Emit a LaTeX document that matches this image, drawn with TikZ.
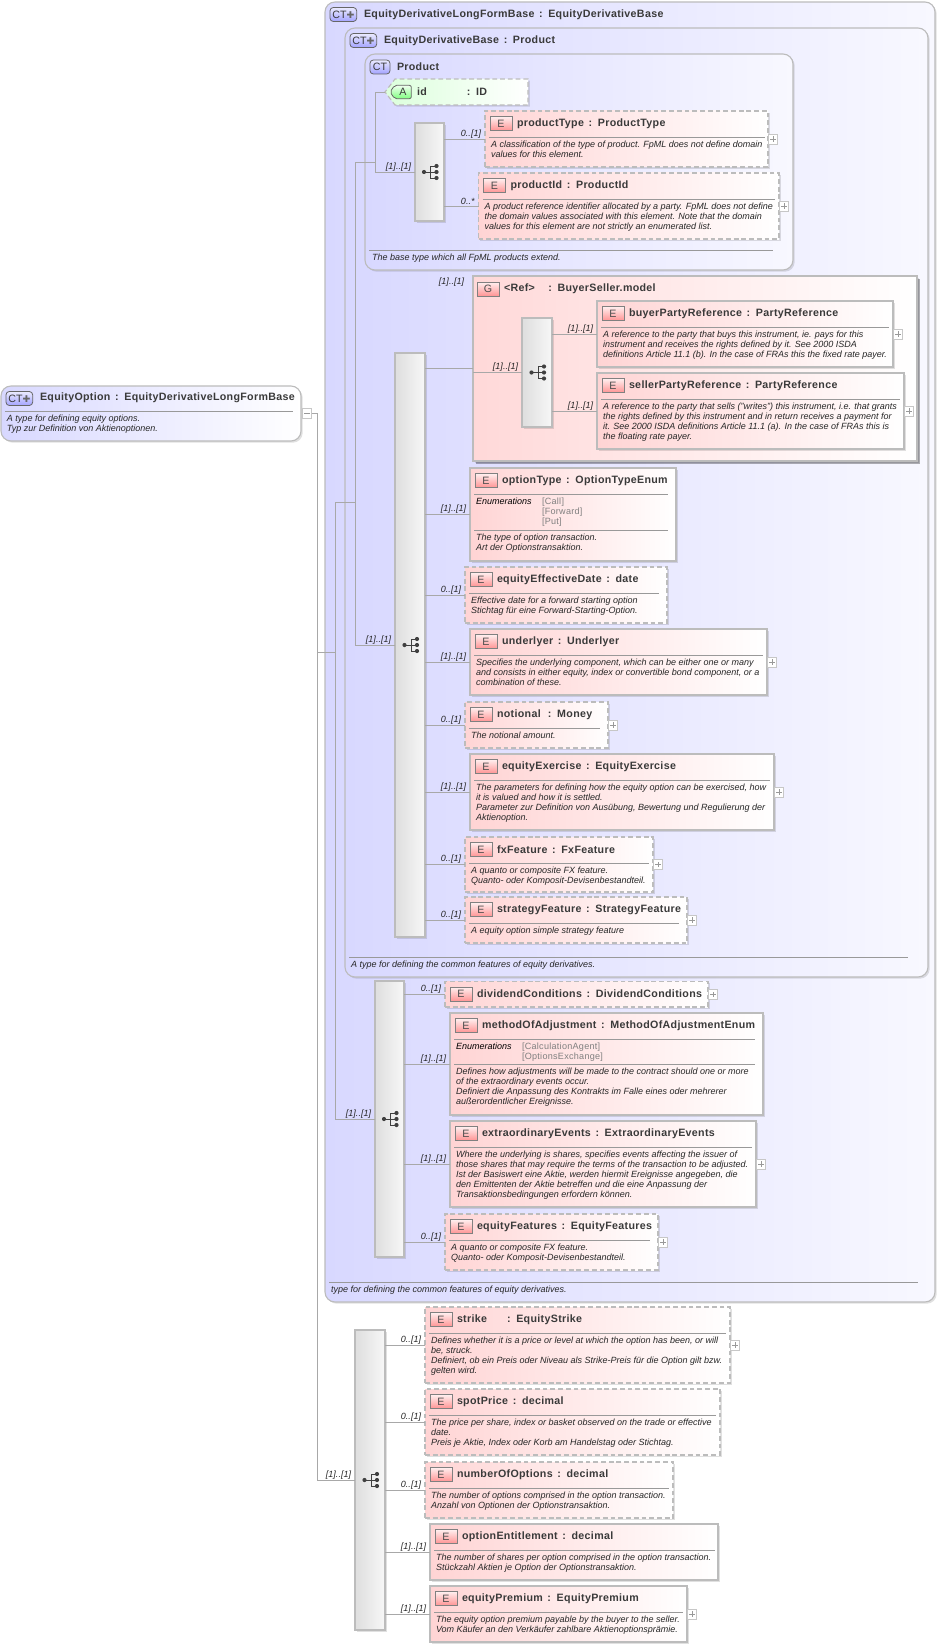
\documentclass[tikz,border=0pt]{standalone}
\usepackage{fontspec}
\setmainfont{Liberation Sans}
\newfontfamily\symfont{DejaVu Sans}
\newfontfamily\titlefont[LetterSpace=3,WordSpace=1.4]{Liberation Sans}
\usetikzlibrary{shadows,shapes.symbols,shapes.misc}

\definecolor{edgegray}{HTML}{BCBCBC}
\definecolor{conngray}{HTML}{A8A8A8}
\definecolor{rulegray}{HTML}{999999}
\definecolor{ctblue}{HTML}{D8D8FF}
\definecolor{ctpale}{HTML}{F8F8FF}
\definecolor{elempink}{HTML}{FFD4D4}
\definecolor{titledark}{HTML}{3A3A3A}

\tikzset{
  soft shadow/.style = {drop shadow={shadow xshift=1.3pt,shadow yshift=-1.3pt,opacity=.12,fill=black}},
  box base/.style = {rectangle,outer sep=0pt,inner sep=0pt,draw=edgegray,line width=.85pt,soft shadow,anchor=north west},
  type box/.style = {box base,rounded corners=7.5pt,left color=ctblue,right color=ctpale},
  elem box/.style = {box base,left color=elempink,right color=white},
  opt box/.style = {elem box,dashed,dash pattern=on 3.6pt off 2.2pt},
  group box/.style = {box base,left color=elempink!90,right color=white,
    drop shadow={shadow xshift=2.2pt,shadow yshift=-2.2pt,opacity=.3,fill=black}},
  seq bar/.style = {box base,left color=black!13,right color=black!3},
  ct icon/.style = {rectangle,rounded corners=2.5pt,draw=black!60,line width=.6pt,top color=blue!8!white,bottom color=blue!36!white,
    minimum height=10.5pt,inner sep=0pt,outer sep=0pt,font=\fontsize{8}{8}\selectfont,text=titledark,anchor=north west},
  e icon/.style = {rectangle,draw=black!50,line width=.6pt,top color=red!6!white,bottom color=red!42!white,
    minimum width=16.5pt,minimum height=10.5pt,inner sep=0pt,outer sep=0pt,font=\fontsize{8}{8}\selectfont,text=black!70,anchor=north west},
  title text/.style = {inner sep=0pt,outer sep=0pt,anchor=west,text=titledark,font=\fontsize{8}{8}\titlefont\bfseries},
  doc text/.style = {inner sep=0pt,outer sep=0pt,anchor=north west,align=left,text=black!85,font=\fontsize{6.75}{7.5}\selectfont\itshape},
  enum text/.style = {inner sep=0pt,outer sep=0pt,anchor=north west,align=left,text=black!50,font=\fontsize{6.8}{7.5}\titlefont},
  occurs/.style = {inner sep=0pt,outer sep=0pt,anchor=south east,xshift=-3pt,yshift=.7pt,text=black!85,font=\fontsize{6.75}{7}\selectfont\itshape},
  conn/.style = {draw=conngray,line width=.6pt},
  rule line/.style = {draw=rulegray,line width=.6pt},
  plus box/.style = {rectangle,draw=black!22,line width=.6pt,fill=white,minimum size=7.4pt,inner sep=0pt,outer sep=0pt,anchor=west,
    path picture={\draw[black!40,line width=.5pt] ([xshift=-2pt]path picture bounding box.center) -- ([xshift=2pt]path picture bounding box.center);
    \draw[black!40,line width=.5pt] ([yshift=-2pt]path picture bounding box.center) -- ([yshift=2pt]path picture bounding box.center);}},
  minus box/.style = {rectangle,draw=black!22,line width=.6pt,fill=white,minimum size=7.4pt,inner sep=0pt,outer sep=0pt,anchor=west,
    path picture={\draw[black!40,line width=.5pt] ([xshift=-2pt]path picture bounding box.center) -- ([xshift=2pt]path picture bounding box.center);}},
  seq icon/.pic = {
    \draw[black!75,line width=.7pt] (-5.5,0) -- (1,0) (7,-6) -| (1,6) -- (7,6) (1,0) -- (7,0);
    \foreach \yy in {-6,0,6} \fill[black!75] (7,\yy) circle (2.1);
    \fill[black!75] (-5.5,0) circle (2.1);
  }
}

% element box: name, style, x, y, w, h, title
\newcommand{\elemhead}[7]{
  \node[#2,minimum width=#5*.75pt,minimum height=#6*.75pt] (#1) at (#3,#4) {};
  \node[e icon] (#1 icon) at ([shift={(5,5.5)}]#1.north west) {E};
  \node[title text] (#1 title) at ([shift={(32,12.5)}]#1.north west) {#7};
}
% rule under the head: name, y offset, inset on the right
\newcommand{\elemrule}[3]{
  \draw[rule line] ([shift={(4,#2)}]#1.north west) -- ([shift={(-#3,#2)}]#1.north east);
}
% doc lines: name, y offset, text
\newcommand{\elemdoc}[3]{
  \node[doc text] (#1 doc) at ([shift={(6,#2)}]#1.north west) {#3};
}
\newcommand{\elemnode}[9]{
  \elemhead{#1}{#2}{#3}{#4}{#5}{#6}{#8}
  \elemrule{#1}{26}{#7}
  \elemdoc{#1}{30}{#9}
}

\begin{document}
\begin{tikzpicture}[x=.75pt,y=-.75pt]
\useasboundingbox (0,0) rectangle (940,1648);

% nested complex types
\node[type box,minimum width=610*.75pt,minimum height=1300*.75pt] (outer) at (325,2) {};
\node[ct icon,minimum width=20pt] (outer icon) at (330,7.5) {CT{\symfont\fontsize{7}{7}\selectfont\textcolor{black!60}{✚}}};
\node[title text] (outer title) at (364,14.5) {EquityDerivativeLongFormBase : EquityDerivativeBase};
\draw[rule line] (329,1282) -- (918,1282);
\node[doc text] (outer doc) at (331,1286) {type for defining the common features of equity derivatives.};

\node[type box,minimum width=583*.75pt,minimum height=949*.75pt] (base) at (345,28) {};
\node[ct icon,minimum width=20pt] (base icon) at (350,33.5) {CT{\symfont\fontsize{7}{7}\selectfont\textcolor{black!60}{✚}}};
\node[title text] (base title) at (384,40.5) {EquityDerivativeBase : Product};
\draw[rule line] (349,957) -- (908,957);
\node[doc text] (base doc) at (351,961) {A type for defining the common features of equity derivatives.};

\node[type box,minimum width=428*.75pt,minimum height=216*.75pt] (product) at (365,54) {};
\node[ct icon,minimum width=15pt] (product icon) at (370,60) {CT};
\node[title text] (product title) at (397,66.5) {Product};
\draw[rule line] (369,250) -- (773,250);
\node[doc text] (product doc) at (372,254) {The base type which all FpML products extend.};

% attribute
\node[box base,signal,signal to=west,signal from=nowhere,signal pointer angle=105,anchor=center,dashed,dash pattern=on 3.6pt off 2.2pt,
  left color=green!14!white,right color=white,minimum width=143*.75pt,minimum height=26*.75pt] (id) at (461.5,92) {};
\node[signal,signal to=west,signal from=nowhere,signal pointer angle=110,rounded corners=1.5pt,draw=black!60,line width=.6pt,top color=green!6!white,bottom color=green!50!white,
  minimum width=16pt,minimum height=10pt,inner sep=0pt,outer sep=0pt,font=\fontsize{8}{8}\selectfont,text=titledark,anchor=west] (id icon) at (390,92) {A};
\node[title text] (id title) at (417,91.5) {id\hspace{30pt}: ID};

% first sequence
\node[seq bar,minimum width=29*.75pt,minimum height=98*.75pt] (seqa) at (415,123) {};
\elemnode{ptype}{opt box}{485}{111}{283}{56}{3}{productType : ProductType}{A classification of the type of product. FpML does not define domain\\values for this element.}
\elemnode{pid}{opt box}{478.5}{173}{300.5}{66}{4}{productId : ProductId}{A product reference identifier allocated by a party. FpML does not define\\the domain values associated with this element. Note that the domain\\values for this element are not strictly an enumerated list.}

% group
\node[group box,minimum width=444*.75pt,minimum height=185*.75pt] (buyerseller) at (473,276) {};
\node[e icon] (buyerseller icon) at (477,282) {G};
\node[title text] (buyerseller title) at (504,288.5) {<Ref>\hspace{10pt}: BuyerSeller.model};
\node[seq bar,minimum width=30*.75pt,minimum height=109*.75pt] (seqg) at (522,318) {};
\elemnode{buyer}{elem box}{597}{301}{296}{66}{4}{buyerPartyReference : PartyReference}{A reference to the party that buys this instrument, ie. pays for this\\instrument and receives the rights defined by it. See 2000 ISDA\\definitions Article 11.1 (b). In the case of FRAs this the fixed rate payer.}
\elemnode{seller}{elem box}{597}{373}{307}{76}{4}{sellerPartyReference : PartyReference}{A reference to the party that sells ("writes") this instrument, i.e. that grants\\the rights defined by this instrument and in return receives a payment for\\it. See 2000 ISDA definitions Article 11.1 (a). In the case of FRAs this is\\the floating rate payer.}

% second sequence
\node[seq bar,minimum width=30*.75pt,minimum height=584*.75pt] (seqb) at (395,353) {};
\elemhead{otype}{elem box}{470}{468}{206}{93}{optionType : OptionTypeEnum}
\elemrule{otype}{26}{8}
\node[doc text,text=black] (otype enum) at (476,498) {Enumerations};
\node[enum text] (otype values) at (542,497.5) {{[Call]}\\{[Forward]}\\{[Put]}};
\elemrule{otype}{62}{8}
\elemdoc{otype}{66}{The type of option transaction.\\Art der Optionstransaktion.}
\elemnode{effdate}{opt box}{465}{567}{202}{56}{8}{equityEffectiveDate : date}{Effective date for a forward starting option\\Stichtag für eine Forward-Starting-Option.}
\elemnode{underlyer}{elem box}{470}{629}{297}{66}{4}{underlyer : Underlyer}{Specifies the underlying component, which can be either one or many\\and consists in either equity, index or convertible bond component, or a\\combination of these.}
\elemnode{notional}{opt box}{465}{702}{143}{46}{8}{notional\hspace{2pt} : Money}{The notional amount.}
\elemnode{exercise}{elem box}{470}{754}{304}{76}{4}{equityExercise : EquityExercise}{The parameters for defining how the equity option can be exercised, how\\it is valued and how it is settled.\\Parameter zur Definition von Ausübung, Bewertung und Regulierung der\\Aktienoption.}
\elemnode{fxfeature}{opt box}{465}{837}{188}{55}{4}{fxFeature : FxFeature}{A quanto or composite FX feature.\\Quanto- oder Komposit-Devisenbestandteil.}
\elemnode{strategy}{opt box}{465}{897}{222}{46}{8}{strategyFeature : StrategyFeature}{A equity option simple strategy feature}

% third sequence
\node[seq bar,minimum width=29*.75pt,minimum height=276*.75pt] (seqc) at (375,981) {};
\elemhead{dividend}{opt box}{445}{981.5}{263}{25.5}{dividendConditions : DividendConditions}
\elemhead{method}{elem box}{450}{1013}{313}{102}{methodOfAdjustment : MethodOfAdjustmentEnum}
\elemrule{method}{26}{8}
\node[doc text,text=black] (method enum) at (456,1043) {Enumerations};
\node[enum text] (method values) at (522,1042.5) {{[CalculationAgent]}\\{[OptionsExchange]}};
\elemrule{method}{51}{8}
\elemdoc{method}{55}{Defines how adjustments will be made to the contract should one or more\\of the extraordinary events occur.\\Definiert die Anpassung des Kontrakts im Falle eines oder mehrerer\\außerordentlicher Ereignisse.}
\elemnode{events}{elem box}{450}{1121}{306}{86}{4}{extraordinaryEvents : ExtraordinaryEvents}{Where the underlying is shares, specifies events affecting the issuer of\\those shares that may require the terms of the transaction to be adjusted.\\Ist der Basiswert eine Aktie, werden hiermit Ereignisse angegeben, die\\den Emittenten der Aktie betreffen und die eine Anpassung der\\Transaktionsbedingungen erfordern können.}
\elemnode{features}{opt box}{445}{1214}{213}{56}{8}{equityFeatures : EquityFeatures}{A quanto or composite FX feature.\\Quanto- oder Komposit-Devisenbestandteil.}

% root
\node[type box,left color=ctblue,right color=white,minimum width=300*.75pt,minimum height=55*.75pt] (root) at (1,386) {};
\node[ct icon,minimum width=20pt] (root icon) at (6,391.5) {CT{\symfont\fontsize{7}{7}\selectfont\textcolor{black!60}{✚}}};
\node[title text] (root title) at (40,398) {EquityOption : EquityDerivativeLongFormBase};
\draw[rule line] (5,411) -- (293,411);
\node[doc text] (root doc) at (7,415) {A type for defining equity options.\\Typ zur Definition von Aktienoptionen.};
\node[minus box] (root minus) at (302,413) {};

% fourth sequence
\node[seq bar,minimum width=30*.75pt,minimum height=300*.75pt] (seqd) at (355,1330) {};
\elemnode{strike}{opt box}{425}{1307}{305}{76}{4}{strike\hspace{15pt}: EquityStrike}{Defines whether it is a price or level at which the option has been, or will\\be, struck.\\Definiert, ob ein Preis oder Niveau als Strike-Preis für die Option gilt bzw.\\gelten wird.}
\elemnode{spot}{opt box}{425}{1389}{295}{66}{4}{spotPrice : decimal}{The price per share, index or basket observed on the trade or effective\\date.\\Preis je Aktie, Index oder Korb am Handelstag oder Stichtag.}
\elemnode{number}{opt box}{425}{1462}{248}{56}{4}{numberOfOptions : decimal}{The number of options comprised in the option transaction.\\Anzahl von Optionen der Optionstransaktion.}
\elemnode{entitle}{elem box}{430}{1524}{288}{56}{3}{optionEntitlement : decimal}{The number of shares per option comprised in the option transaction.\\Stückzahl Aktien je Option der Optionstransaktion.}
\elemnode{premium}{elem box}{430}{1586}{257}{56}{4}{equityPremium : EquityPremium}{The equity option premium payable by the buyer to the seller.\\Vom Käufer an den Verkäufer zahlbare Aktienoptionsprämie.}

% sequence symbols
\foreach \sq in {seqa,seqb,seqc,seqd,seqg}
  \pic at (\sq.center) {seq icon};

% expand boxes
\foreach \bx in {ptype,pid,buyer,seller,underlyer,notional,exercise,fxfeature,strategy,dividend,events,features,strike,premium}
  \node[plus box] (\bx plus) at (\bx.east) {};

% trunk lines
\coordinate (trunk a) at (317,413);
\coordinate (trunk b) at (335,502);
\coordinate (trunk c) at (355,162);
\coordinate (trunk d) at (375,92);
\draw[conn] (root minus.east) -- (trunk a) |- (seqd.west) node[occurs] {[1]..[1]};
\draw[conn] (outer.west -| trunk a) -- (outer.west -| trunk b);
\draw[conn] (seqc.west) -| (trunk b) -- (trunk c |- trunk b);
\path (seqc.west) node[occurs] (seqc occurs) {[1]..[1]};
\draw[conn] (seqb.west) -| (trunk c) -- (trunk d |- trunk c);
\path (seqb.west) node[occurs] (seqb occurs) {[1]..[1]};
\draw[conn] (seqa.west) -| (trunk d) -- (id.west);
\path (seqa.west) node[occurs] (seqa occurs) {[1]..[1]};

% branch lines
\foreach \bx/\oc in {ptype/{0..[1]},pid/{0..*}}
  \draw[conn] (seqa.east |- \bx.west) -- (\bx.west) node[occurs] {\oc};
\foreach \bx/\oc in {buyerseller/{},otype/{[1]..[1]},effdate/{0..[1]},underlyer/{[1]..[1]},notional/{0..[1]},exercise/{[1]..[1]},fxfeature/{0..[1]},strategy/{0..[1]}}
  \draw[conn] (seqb.east |- \bx.west) -- (\bx.west) node[occurs] {\oc};
\foreach \bx/\oc in {buyer/{[1]..[1]},seller/{[1]..[1]}}
  \draw[conn] (seqg.east |- \bx.west) -- (\bx.west) node[occurs] {\oc};
\foreach \bx/\oc in {dividend/{0..[1]},method/{[1]..[1]},events/{[1]..[1]},features/{0..[1]}}
  \draw[conn] (seqc.east |- \bx.west) -- (\bx.west) node[occurs] {\oc};
\foreach \bx/\oc in {strike/{0..[1]},spot/{0..[1]},number/{0..[1]},entitle/{[1]..[1]},premium/{[1]..[1]}}
  \draw[conn] (seqd.east |- \bx.west) -- (\bx.west) node[occurs] {\oc};
\draw[conn] (buyerseller.west |- seqg.west) -- (seqg.west) node[occurs] {[1]..[1]};
\node[occurs,anchor=east,xshift=0pt,yshift=0pt] (buyerseller occurs) at (468,283) {[1]..[1]};

\end{tikzpicture}
\end{document}
